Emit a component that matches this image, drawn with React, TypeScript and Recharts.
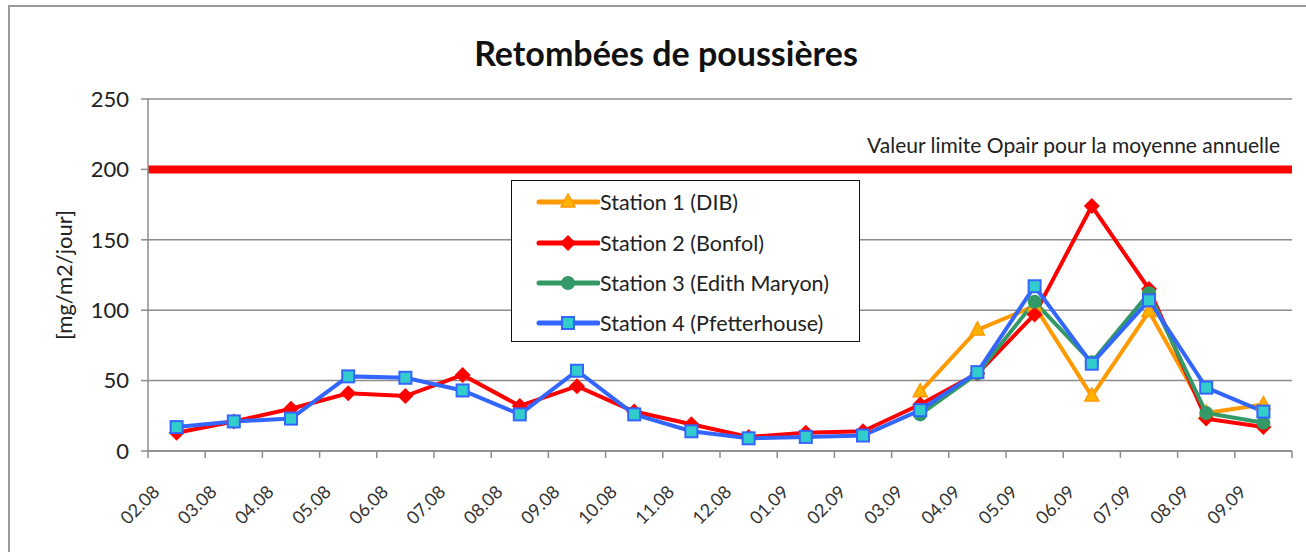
import { CartesianGrid, Legend, Line, LineChart, ReferenceLine, XAxis, YAxis } from "recharts";

const categories = [
  "02.08", "03.08", "04.08", "05.08", "06.08", "07.08", "08.08", "09.08", "10.08", "11.08",
  "12.08", "01.09", "02.09", "03.09", "04.09", "05.09", "06.09", "07.09", "08.09", "09.09",
];

const station1 = [null, null, null, null, null, null, null, null, null, null, null, null, null, 42, 86, 103, 39, 99, 27, 33];
const station2 = [13, 21, 30, 41, 39, 54, 32, 46, 28, 19, 10, 13, 14, 33, 55, 97, 174, 115, 23, 17];
const station3 = [null, null, null, null, null, null, null, null, null, null, null, null, null, 26, 55, 106, 63, 112, 27, 20];
const station4 = [17, 21, 23, 53, 52, 43, 26, 57, 26, 14, 9, 10, 11, 29, 56, 117, 62, 107, 45, 28];

const yTicks = [0, 50, 100, 150, 200, 250];
const limitValue = 200;
const limitText = "Valeur limite Opair pour la moyenne annuelle";

const series = [
  { key: "s1", name: "Station 1 (DIB)", color: "#FF9900", marker: "triangle", values: station1 },
  { key: "s2", name: "Station 2 (Bonfol)", color: "#FF0000", marker: "diamond", values: station2 },
  { key: "s3", name: "Station 3 (Edith Maryon)", color: "#339966", marker: "circle", values: station3 },
  { key: "s4", name: "Station 4 (Pfetterhouse)", color: "#3366FF", marker: "square", values: station4 },
];

const data = categories.map((date, i) => {
  const row: Record<string, string | number | null> = { date };
  series.forEach((s) => {
    row[s.key] = s.values[i];
  });
  return row;
});

const W = 1306;
const H = 552;
const margin = { top: 99, right: 14, bottom: 0, left: 0 };
const Y_AXIS_W = 148;
const X_AXIS_H = 101;
const halfBand = (W - margin.right - Y_AXIS_W) / categories.length / 2;
const FONT = "Lato, 'Open Sans', sans-serif";
const AXIS = "#8c8c8c";

function Marker({ shape, cx, cy }: { shape: string; cx: number; cy: number }) {
  if (shape === "triangle") {
    return (
      <polygon
        points={`${cx},${cy - 8} ${cx - 7},${cy + 5} ${cx + 7},${cy + 5}`}
        fill="#FFB300"
        stroke="#FF9900"
        strokeWidth={1.5}
      />
    );
  }
  if (shape === "diamond") {
    return <polygon points={`${cx},${cy - 8} ${cx + 8},${cy} ${cx},${cy + 8} ${cx - 8},${cy}`} fill="#FF0000" />;
  }
  if (shape === "circle") {
    return <circle cx={cx} cy={cy} r={7} fill="#339966" />;
  }
  return <rect x={cx - 6} y={cy - 6} width={12} height={12} fill="#33CCCC" stroke="#3366FF" strokeWidth={2} />;
}

function makeDot(shape: string) {
  return (props: any) => {
    const { cx, cy, index, value } = props;
    if (value == null || cy == null || isNaN(cy)) return <g key={`e-${shape}-${index}`} />;
    return (
      <g key={`d-${shape}-${index}`}>
        <Marker shape={shape} cx={cx} cy={cy} />
      </g>
    );
  };
}

function XTick(props: any) {
  const { x, y, payload, index } = props;
  const last = index === categories.length - 1;
  const ax = x - 16;
  const ay = y + 42;
  return (
    <g>
      <line x1={x - halfBand} y1={y} x2={x - halfBand} y2={y + 7} stroke={AXIS} strokeWidth={1.5} />
      {last && <line x1={x + halfBand} y1={y} x2={x + halfBand} y2={y + 7} stroke={AXIS} strokeWidth={1.5} />}
      <text
        x={ax}
        y={ay}
        transform={`rotate(-45 ${ax} ${ay})`}
        textAnchor="end"
        fontSize={18}
        fontFamily={FONT}
        fill="#333"
      >
        {payload.value}
      </text>
    </g>
  );
}

function LimitLabel(props: any) {
  const vb = props.viewBox || {};
  return (
    <text
      x={vb.x + vb.width - 12}
      y={vb.y - 16}
      textAnchor="end"
      fontSize={21}
      fontFamily={FONT}
      fill="#222"
    >
      {limitText}
    </text>
  );
}

function LegendBox() {
  return (
    <div
      style={{
        width: 349,
        height: 162,
        boxSizing: "border-box",
        border: "1.5px solid #111",
        background: "#fff",
        paddingTop: 1,
        fontFamily: FONT,
      }}
    >
      {series.map((s) => (
        <div key={s.key} style={{ display: "flex", alignItems: "center", height: 40.4 }}>
          <svg width={88} height={24} style={{ flex: "none" }}>
            <line x1={27} y1={12} x2={86} y2={12} stroke={s.color} strokeWidth={5} strokeLinecap="round" />
            <Marker shape={s.marker} cx={56} cy={12} />
          </svg>
          <span style={{ fontSize: 21.5, color: "#222", whiteSpace: "nowrap" }}>{s.name}</span>
        </div>
      ))}
    </div>
  );
}

export default function App() {
  return (
    <div style={{ position: "relative", width: W, height: H, overflow: "hidden", background: "#fff" }}>
      <style>{`body{margin:0;overflow:hidden}`}</style>
      <div
        style={{
          position: "absolute",
          left: 8,
          top: 5,
          width: W,
          height: H,
          border: "2px solid #9a9a9a",
          boxSizing: "border-box",
        }}
      />
      <div
        style={{
          position: "absolute",
          left: 666,
          top: 36,
          transform: "translateX(-50%)",
          fontFamily: FONT,
          fontWeight: 700,
          fontSize: 34,
          lineHeight: 1,
          whiteSpace: "nowrap",
          color: "#111",
        }}
      >
        Retombées de poussières
      </div>
      <div
        style={{
          position: "absolute",
          left: 63,
          top: 275,
          transform: "translate(-50%, -50%) rotate(-90deg)",
          fontFamily: FONT,
          fontSize: 22,
          whiteSpace: "nowrap",
          color: "#222",
        }}
      >
        [mg/m2/jour]
      </div>
      <div style={{ position: "absolute", left: 0, top: 0 }}>
        <LineChart width={W} height={H} data={data} margin={margin}>
          <CartesianGrid vertical={false} stroke={AXIS} strokeWidth={1.5} />
          <XAxis
            dataKey="date"
            height={X_AXIS_H}
            interval={0}
            padding={{ left: halfBand, right: halfBand }}
            tickLine={false}
            tickSize={0}
            tickMargin={0}
            axisLine={{ stroke: AXIS, strokeWidth: 1.5 }}
            tick={<XTick />}
          />
          <YAxis
            width={Y_AXIS_W}
            domain={[0, 250]}
            ticks={yTicks}
            interval={0}
            tickSize={7}
            tickMargin={12}
            tickLine={{ stroke: AXIS, strokeWidth: 1.5 }}
            axisLine={{ stroke: AXIS, strokeWidth: 1.5 }}
            tick={{ fontSize: 22, fontFamily: FONT, fill: "#222" }}
          />
          <ReferenceLine y={limitValue} stroke="#FF0000" strokeWidth={8} label={<LimitLabel />} />
          {series.map((s) => (
            <Line
              key={s.key}
              dataKey={s.key}
              name={s.name}
              stroke={s.color}
              strokeWidth={4}
              dot={makeDot(s.marker)}
              activeDot={false}
              connectNulls={false}
              isAnimationActive={false}
            />
          ))}
          <Legend
            layout="vertical"
            align="center"
            verticalAlign="middle"
            content={<LegendBox />}
            wrapperStyle={{ left: 511, top: 180, width: 349, height: 162 }}
          />
        </LineChart>
      </div>
    </div>
  );
}
